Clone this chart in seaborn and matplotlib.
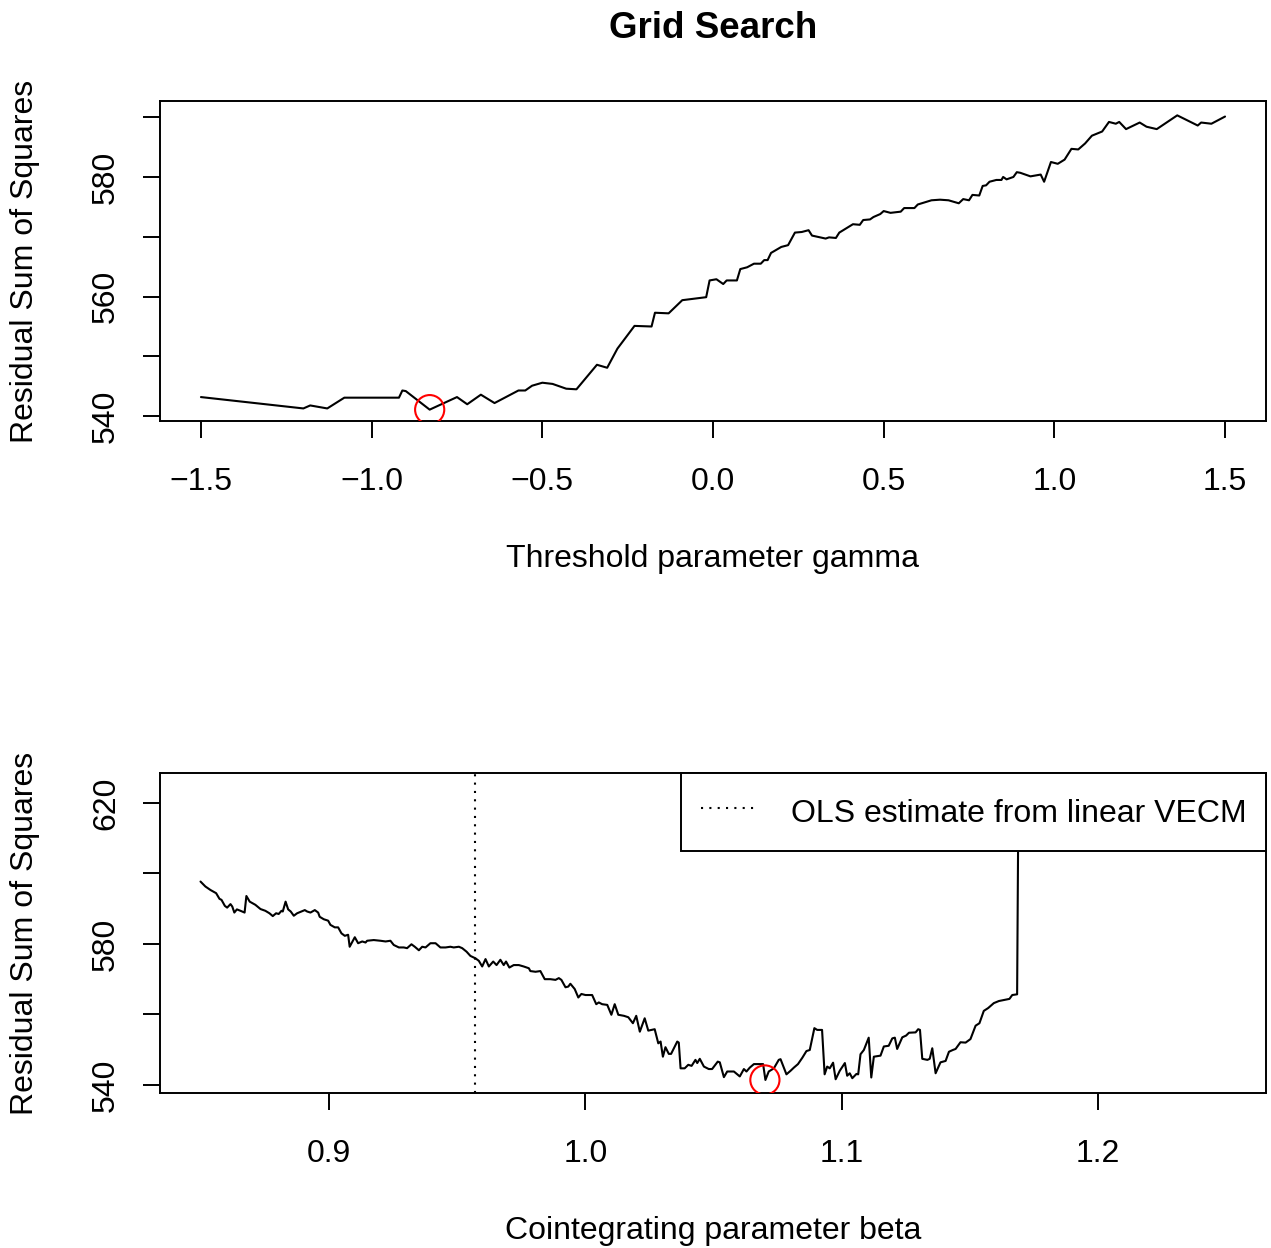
import numpy as np
import pandas as pd
import matplotlib
matplotlib.use("Agg")
import matplotlib.pyplot as plt
import seaborn as sns

# ---------------- data ----------------
gamma_grid = [-1.50, -1.20, -1.18, -1.13, -1.08, -0.92, -0.91, -0.90, -0.83, -0.75,
              -0.72, -0.68, -0.64, -0.57, -0.55, -0.53, -0.50, -0.47, -0.43, -0.40,
              -0.34, -0.31, -0.28, -0.23, -0.18, -0.17, -0.13, -0.09, -0.02, -0.01,
              0.01, 0.03, 0.04, 0.07, 0.08, 0.10, 0.12, 0.14, 0.15, 0.16,
              0.17, 0.20, 0.22, 0.24, 0.26, 0.28, 0.29, 0.33, 0.34, 0.36,
              0.37, 0.41, 0.43, 0.44, 0.46, 0.47, 0.49, 0.50, 0.52, 0.55,
              0.56, 0.59, 0.60, 0.64, 0.665, 0.69, 0.72, 0.733, 0.75, 0.76,
              0.78, 0.79, 0.80, 0.81, 0.83, 0.845, 0.85, 0.86, 0.88, 0.89,
              0.90, 0.93, 0.96, 0.97, 0.99, 1.01, 1.03, 1.05, 1.07, 1.09,
              1.11, 1.14, 1.16, 1.18, 1.19, 1.21, 1.25, 1.27, 1.30, 1.36,
              1.42, 1.43, 1.46, 1.50]
gamma_rss = [543.2, 541.3, 541.8, 541.3, 543.1, 543.1, 544.3, 544.2, 541.1, 543.2,
             542.0, 543.6, 542.2, 544.3, 544.3, 545.1, 545.6, 545.4, 544.6, 544.5,
             548.6, 548.1, 551.3, 555.1, 555.0, 557.3, 557.2, 559.4, 559.9, 562.7,
             562.9, 562.1, 562.7, 562.7, 564.6, 564.9, 565.5, 565.5, 566.1, 566.1,
             567.3, 568.3, 568.6, 570.7, 570.8, 571.1, 570.2, 569.7, 569.9, 569.8,
             570.7, 572.1, 572.0, 572.8, 572.9, 573.3, 573.8, 574.3, 574.0, 574.2,
             574.8, 574.8, 575.4, 576.1, 576.2, 576.1, 575.6, 576.3, 576.1, 577.0,
             576.9, 578.5, 578.6, 579.2, 579.5, 579.5, 580.0, 579.6, 580.0, 580.8,
             580.7, 580.1, 580.4, 579.2, 582.5, 582.2, 582.9, 584.7, 584.6, 585.6,
             586.9, 587.6, 589.2, 588.9, 589.2, 588.0, 589.1, 588.4, 588.0, 590.3,
             588.6, 589.1, 588.9, 590.1]
gamma_opt = [-0.83]
gamma_opt_rss = [541.1]

beta_grid = [0.8498, 0.8517, 0.8537, 0.8559, 0.8572, 0.8580, 0.8593, 0.8602, 0.8615, 0.8622,
             0.8630, 0.8640, 0.8654, 0.8670, 0.8677, 0.8690, 0.8712, 0.8732, 0.8751, 0.8767,
             0.8780, 0.8793, 0.8803, 0.8814, 0.8819, 0.8830, 0.8840, 0.8850, 0.8862, 0.8875,
             0.8892, 0.8905, 0.8914, 0.8927, 0.8944, 0.8957, 0.8963, 0.8979, 0.8996, 0.9005,
             0.9022, 0.9035, 0.9048, 0.9061, 0.9074, 0.9080, 0.9100, 0.9113, 0.9129, 0.9142,
             0.9148, 0.9174, 0.9200, 0.9220, 0.9239, 0.9252, 0.9272, 0.9291, 0.9304, 0.9321,
             0.9334, 0.9350, 0.9363, 0.9376, 0.9395, 0.9415, 0.9434, 0.9454, 0.9473, 0.9486,
             0.9506, 0.9519, 0.9536, 0.9551, 0.9571, 0.9584, 0.9597, 0.9610, 0.9623, 0.9640,
             0.9653, 0.9668, 0.9681, 0.9690, 0.9703, 0.9720, 0.9740, 0.9759, 0.9779, 0.9785,
             0.9805, 0.9824, 0.9841, 0.9863, 0.9883, 0.9896, 0.9906, 0.9922, 0.9933, 0.9941,
             0.9958, 0.9972, 0.9984, 1.0000, 1.0026, 1.0042, 1.0052, 1.0065, 1.0085, 1.0101,
             1.0114, 1.0128, 1.0150, 1.0167, 1.0185, 1.0198, 1.0212, 1.0231, 1.0245, 1.0270,
             1.0284, 1.0293, 1.0302, 1.0312, 1.0325, 1.0334, 1.0358, 1.0364, 1.0371, 1.0387,
             1.0401, 1.0414, 1.0429, 1.0436, 1.0446, 1.0462, 1.0481, 1.0494, 1.0516, 1.0524,
             1.0540, 1.0553, 1.0579, 1.0602, 1.0618, 1.0628, 1.0641, 1.0657, 1.0686, 1.0693,
             1.0702, 1.0715, 1.0735, 1.0754, 1.0761, 1.0784, 1.0800, 1.0813, 1.0829, 1.0846,
             1.0862, 1.0875, 1.0893, 1.0904, 1.0923, 1.0933, 1.0943, 1.0953, 1.0966, 1.0976,
             1.0992, 1.1012, 1.1021, 1.1031, 1.1041, 1.1057, 1.1064, 1.1073, 1.1086, 1.1105,
             1.1115, 1.1125, 1.1151, 1.1164, 1.1183, 1.1197, 1.1207, 1.1216, 1.1236, 1.1251,
             1.1262, 1.1288, 1.1298, 1.1305, 1.1314, 1.1334, 1.1343, 1.1353, 1.1366, 1.1385,
             1.1405, 1.1418, 1.1433, 1.1444, 1.1463, 1.1483, 1.1502, 1.1522, 1.1537, 1.1554,
             1.1571, 1.1593, 1.1613, 1.1654, 1.1665, 1.1684, 1.1696, 1.1900, 1.2200, 1.2500]
beta_rss = [597.7, 596.3, 595.3, 594.4, 592.8, 592.5, 590.8, 590.3, 591.3, 590.6,
            588.9, 589.8, 589.4, 588.9, 593.6, 592.0, 591.1, 589.9, 589.4, 588.7,
            587.9, 588.7, 588.5, 589.4, 589.2, 592.0, 589.8, 589.2, 588.0, 588.7,
            589.2, 589.6, 589.2, 588.9, 589.6, 588.9, 587.7, 587.0, 586.6, 585.4,
            584.7, 584.7, 583.0, 582.3, 582.6, 579.2, 581.9, 580.2, 580.7, 580.4,
            580.9, 581.1, 580.9, 580.7, 580.9, 579.7, 579.0, 579.0, 578.8, 579.9,
            579.2, 578.2, 579.2, 579.0, 580.2, 580.2, 579.0, 579.0, 579.2, 579.0,
            579.2, 578.8, 577.8, 576.6, 575.9, 575.2, 573.6, 575.7, 573.6, 575.0,
            574.0, 575.5, 574.0, 575.0, 573.3, 574.0, 574.0, 573.6, 573.1, 572.3,
            572.1, 572.3, 570.0, 570.0, 569.8, 570.3, 569.8, 567.7, 567.9, 568.7,
            567.2, 564.8, 565.8, 565.5, 565.5, 562.9, 563.4, 562.9, 562.7, 559.9,
            562.9, 559.9, 559.6, 559.2, 557.5, 559.6, 555.1, 558.9, 555.4, 555.8,
            551.8, 552.3, 548.0, 550.7, 548.8, 548.8, 552.3, 552.0, 544.7, 544.7,
            545.7, 545.4, 547.1, 546.2, 547.4, 545.2, 544.5, 544.5, 546.6, 546.4,
            542.2, 543.8, 543.8, 542.4, 544.5, 543.8, 544.9, 545.9, 545.9, 545.9,
            541.4, 543.8, 544.7, 547.1, 547.3, 543.0, 544.0, 544.9, 545.9, 547.7,
            549.6, 549.9, 556.1, 555.6, 555.6, 543.0, 545.2, 544.7, 546.3, 541.6,
            544.0, 546.2, 542.6, 543.3, 541.9, 543.1, 543.0, 548.7, 549.9, 553.4,
            542.1, 548.0, 548.3, 550.9, 551.1, 553.2, 553.4, 550.2, 553.5, 554.0,
            554.8, 554.9, 555.8, 555.6, 547.4, 547.1, 547.4, 550.4, 543.3, 546.4,
            546.8, 549.4, 549.9, 550.2, 552.1, 552.0, 553.0, 556.8, 557.5, 561.0,
            561.8, 563.2, 563.8, 564.4, 565.5, 565.7, 700.0, 720.0, 710.0, 730.0]
beta_opt = [1.0700]
beta_opt_rss = [541.4]
beta_ols = 0.957

gamma_xticks = [-1.5, -1.0, -0.5, 0.0, 0.5, 1.0, 1.5]
gamma_xticklabels = ["\u22121.5", "\u22121.0", "\u22120.5", "0.0", "0.5", "1.0", "1.5"]
gamma_yticks = [540, 550, 560, 570, 580, 590]
gamma_yticklabels = ["540", "", "560", "", "580", ""]
beta_xticks = [0.9, 1.0, 1.1, 1.2]
beta_xticklabels = ["0.9", "1.0", "1.1", "1.2"]
beta_yticks = [540, 560, 580, 600, 620]
beta_yticklabels = ["540", "", "580", "", "620"]

title = "Grid Search"
xlabel_top = "Threshold parameter gamma"
xlabel_bottom = "Cointegrating parameter beta"
ylabel = "Residual Sum of Squares"
legend_label = "OLS estimate from linear VECM"

# ---------------- style ----------------
sns.set_theme(style="white")
plt.rcParams["font.family"] = ["Liberation Sans", "DejaVu Sans"]
plt.rcParams["axes.unicode_minus"] = True

FS = 23
W, H = 1271, 1248
fig = plt.figure(figsize=(W / 100, H / 100), dpi=100)
fig.patch.set_facecolor("white")


def px_axes(x0, y0, x1, y1):
    return fig.add_axes([x0 / W, 1 - y1 / H, (x1 - x0) / W, (y1 - y0) / H])


ax1 = px_axes(160, 101, 1266, 421)
ax2 = px_axes(160, 773, 1266, 1093)

df_top = pd.DataFrame({"gamma": gamma_grid, "rss": gamma_rss})
df_bot = pd.DataFrame({"beta": beta_grid, "rss": beta_rss})

sns.lineplot(data=df_top, x="gamma", y="rss", ax=ax1, color="black", lw=1.5,
             estimator=None, sort=False)
sns.scatterplot(x=gamma_opt, y=gamma_opt_rss, ax=ax1, marker="o", s=21 ** 2,
                facecolor="none", edgecolor="red", linewidth=1.5, zorder=5)

sns.lineplot(data=df_bot, x="beta", y="rss", ax=ax2, color="black", lw=1.5,
             estimator=None, sort=False)
sns.scatterplot(x=beta_opt, y=beta_opt_rss, ax=ax2, marker="o", s=21 ** 2,
                facecolor="none", edgecolor="red", linewidth=1.5, zorder=5)
ax2.axvline(beta_ols, color="black", lw=1.5, linestyle=(0, (1, 3)), label=legend_label)

ax1.set_xlim(-1.62, 1.62)
ax1.set_ylim(539.2, 592.7)
ax2.set_xlim(0.834, 1.2655)
ax2.set_ylim(537.7, 628.5)

for ax, xt, xtl, yt, ytl, xl in [
    (ax1, gamma_xticks, gamma_xticklabels, gamma_yticks, gamma_yticklabels, xlabel_top),
    (ax2, beta_xticks, beta_xticklabels, beta_yticks, beta_yticklabels, xlabel_bottom),
]:
    ax.set_facecolor("white")
    for sp in ax.spines.values():
        sp.set_visible(True)
        sp.set_color("black")
        sp.set_linewidth(1.4)
    ax.set_xticks(xt)
    ax.set_xticklabels(xtl, fontsize=FS)
    ax.set_yticks(yt)
    ax.set_yticklabels(ytl, fontsize=FS, rotation=90, va="center")
    ax.tick_params(axis="both", which="major", direction="out", length=12, width=1.4,
                   color="black", labelcolor="black", bottom=True, left=True,
                   top=False, right=False)
    ax.tick_params(axis="x", pad=21)
    ax.tick_params(axis="y", pad=16)
    ax.grid(False)
    ax.set_xlabel(xl, fontsize=FS, color="black", va="center")
    ax.xaxis.set_label_coords(0.5, -0.4313)
    ax.set_ylabel(ylabel, fontsize=FS, color="black", va="center", rotation=90)
    ax.yaxis.set_label_coords(-0.1221, 0.5)

ax1.set_title(title, fontsize=26.5, fontweight="bold", color="black",
              y=(421 - 29) / 320, va="center", pad=0)

leg = ax2.legend(loc="upper right", bbox_to_anchor=(1.0, 1.0), borderaxespad=0,
                 fontsize=FS, frameon=True, fancybox=False, framealpha=1,
                 edgecolor="black", handlelength=1.7, handleheight=1.45,
                 handletextpad=1.1, borderpad=0.62)
leg.get_frame().set_linewidth(1.4)
for t in leg.get_texts():
    t.set_color("black")

fig.savefig("out.png", dpi=100, facecolor="white")
